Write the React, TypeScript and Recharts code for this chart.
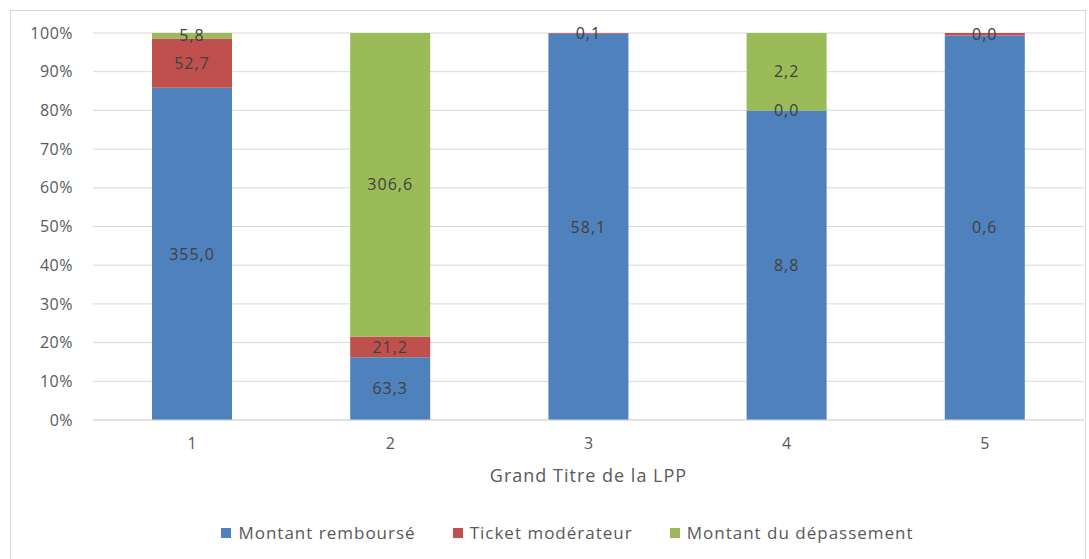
import React from 'react';
import { BarChart, Bar, XAxis, YAxis, CartesianGrid, Legend, LabelList } from 'recharts';

const categories = ['1', '2', '3', '4', '5'];
const montantRembourse = [355.0, 63.3, 58.1, 8.8, 0.6];
const ticketModerateur = [52.7, 21.2, 0.1, 0.001, 0.004];
const montantDepassement: (number | null)[] = [5.8, 306.6, null, 2.2, null];
const yTicks = [0, 0.1, 0.2, 0.3, 0.4, 0.5, 0.6, 0.7, 0.8, 0.9, 1];

const series = [
  { key: 'rembourse', name: 'Montant remboursé', color: '#4F81BD' },
  { key: 'ticket', name: 'Ticket modérateur', color: '#C0504D' },
  { key: 'depassement', name: 'Montant du dépassement', color: '#9BBB59' },
];

const data = categories.map((c, i) => ({
  name: c,
  rembourse: montantRembourse[i],
  ticket: ticketModerateur[i],
  depassement: montantDepassement[i],
}));

const FONT = '"Open Sans", sans-serif';
const GREY = '#595959';

const fmt = (v: any) => (v === null || v === undefined ? '' : Number(v).toFixed(1).replace('.', ','));

const CustomLegend = () => (
  <div style={{ display: 'flex', justifyContent: 'center', gap: 37, fontFamily: FONT, fontSize: 17, letterSpacing: 1, color: GREY }}>
    {series.map((s) => (
      <div key={s.key} style={{ display: 'flex', alignItems: 'center' }}>
        <span style={{ display: 'inline-block', width: 10, height: 10, background: s.color, marginRight: 7 }} />
        {s.name}
      </div>
    ))}
  </div>
);

export default function App() {
  return (
    <div style={{ position: 'absolute', left: 0, top: 0, width: 1089, height: 559, background: '#fff', overflow: 'hidden' }}>
      <div style={{ position: 'absolute', left: 10, top: 10, width: 1074, height: 600, border: '1px solid #D9D9D9' }} />
      <BarChart
        width={1089}
        height={559}
        data={data}
        stackOffset="expand"
        margin={{ top: 33, right: 5, bottom: 46, left: 8 }}
        style={{ position: 'absolute', left: 0, top: 0 }}
      >
        <CartesianGrid vertical={false} stroke="#D9D9D9" />
        <XAxis
          dataKey="name"
          axisLine={{ stroke: '#D9D9D9' }}
          tickLine={false}
          tickMargin={12}
          height={70}
          tick={{ fill: GREY, fontSize: 16, fontFamily: FONT }}
          label={{ value: 'Grand Titre de la LPP', position: 'insideBottom', offset: 8, fill: GREY, fontSize: 18, fontFamily: FONT, style: { letterSpacing: 1 } }}
        />
        <YAxis
          domain={[0, 1]}
          ticks={yTicks}
          width={85}
          axisLine={false}
          tickLine={false}
          tickMargin={14}
          tickFormatter={(v: number) => `${Math.round(v * 100)}%`}
          tick={{ fill: GREY, fontSize: 16, fontFamily: FONT, style: { letterSpacing: 0.5 } }}
        />
        <Legend content={<CustomLegend />} verticalAlign="bottom" wrapperStyle={{ top: 521, left: 23, width: 1089 }} />
        {series.map((s) => (
          <Bar key={s.key} dataKey={s.key} name={s.name} stackId="a" fill={s.color} barSize={80} isAnimationActive={false}>
            <LabelList
              dataKey={s.key}
              position="center"
              formatter={fmt}
              fill="#404040"
              fontSize={16}
              fontFamily={FONT}
              style={{ letterSpacing: 1 }}
            />
          </Bar>
        ))}
      </BarChart>
    </div>
  );
}
